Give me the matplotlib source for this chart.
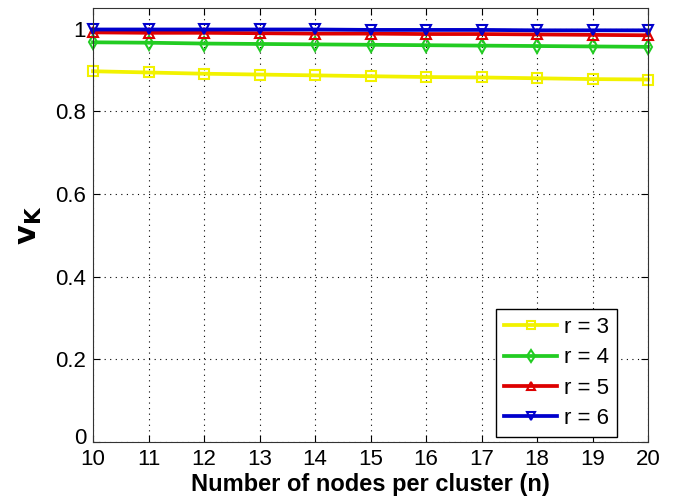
import matplotlib
matplotlib.use("Agg")
import matplotlib.pyplot as plt
import matplotlib.transforms as mtransforms
import numpy as np

plt.rcParams['font.family'] = ['Liberation Sans', 'DejaVu Sans']

nodes = np.arange(10, 21)
r3 = [0.897, 0.894, 0.891, 0.889, 0.887, 0.885, 0.883, 0.882, 0.880, 0.878, 0.877]
r4 = [0.967, 0.966, 0.964, 0.963, 0.962, 0.961, 0.960, 0.959, 0.958, 0.957, 0.956]
r5 = [0.991, 0.990, 0.990, 0.989, 0.988, 0.988, 0.987, 0.987, 0.986, 0.985, 0.984]
r6 = [0.998, 0.998, 0.998, 0.998, 0.998, 0.997, 0.997, 0.997, 0.996, 0.996, 0.996]

series = [
    ("r = 3", r3, "#f2f200", "s"),
    ("r = 4", r4, "#22cc22", "d"),
    ("r = 5", r5, "#dd0000", "^"),
    ("r = 6", r6, "#0000cc", "v"),
]

fig = plt.figure(figsize=(6.75, 5.01), dpi=100)
ax = fig.add_axes([93 / 675, 1 - 442 / 501, 555 / 675, 434 / 501])

for label, vals, color, marker in series:
    ax.plot(nodes, vals, color=color, marker=marker, markersize=7.5,
            markerfacecolor="none", markeredgecolor=color, markeredgewidth=1.5,
            linewidth=2.7, label=label, clip_on=False)

ax.set_xlim(10, 20)
ax.set_ylim(0, 1.05)
ax.set_xticks(nodes)
ax.set_yticks([0, 0.2, 0.4, 0.6, 0.8, 1])
ax.set_yticklabels(["0", "0.2", "0.4", "0.6", "0.8", "1"])
ax.tick_params(direction="in", labelsize=16, length=5, top=True, right=True)
ax.tick_params(axis="x", pad=5)
ax.tick_params(axis="y", pad=5)
ax.grid(True, linestyle=(0, (1, 4)), color="black", linewidth=0.8)
for spine in ax.spines.values():
    spine.set_color("#333333")

# nudge the "0" label up a little, like the reference
fig.canvas.draw()
zero = ax.get_yticklabels()[0]
zero.set_transform(zero.get_transform() +
                   mtransforms.ScaledTranslation(0, 4 / 72, fig.dpi_scale_trans))

ax.set_xlabel("Number of nodes per cluster (n)", fontsize=17, fontweight="bold", labelpad=2.5)
ax.set_ylabel(r"$\mathbf{v_K}$", fontsize=22, labelpad=8)

leg = ax.legend(loc="lower right", fontsize=16, fancybox=False, edgecolor="black",
                framealpha=1, handlelength=2.4, borderpad=0.35, labelspacing=0.42,
                handletextpad=0.3, borderaxespad=0, bbox_to_anchor=(0.944, 0.012),
                markerscale=0.85)
leg.get_frame().set_linewidth(1.0)

fig.savefig("out.png", dpi=100)
